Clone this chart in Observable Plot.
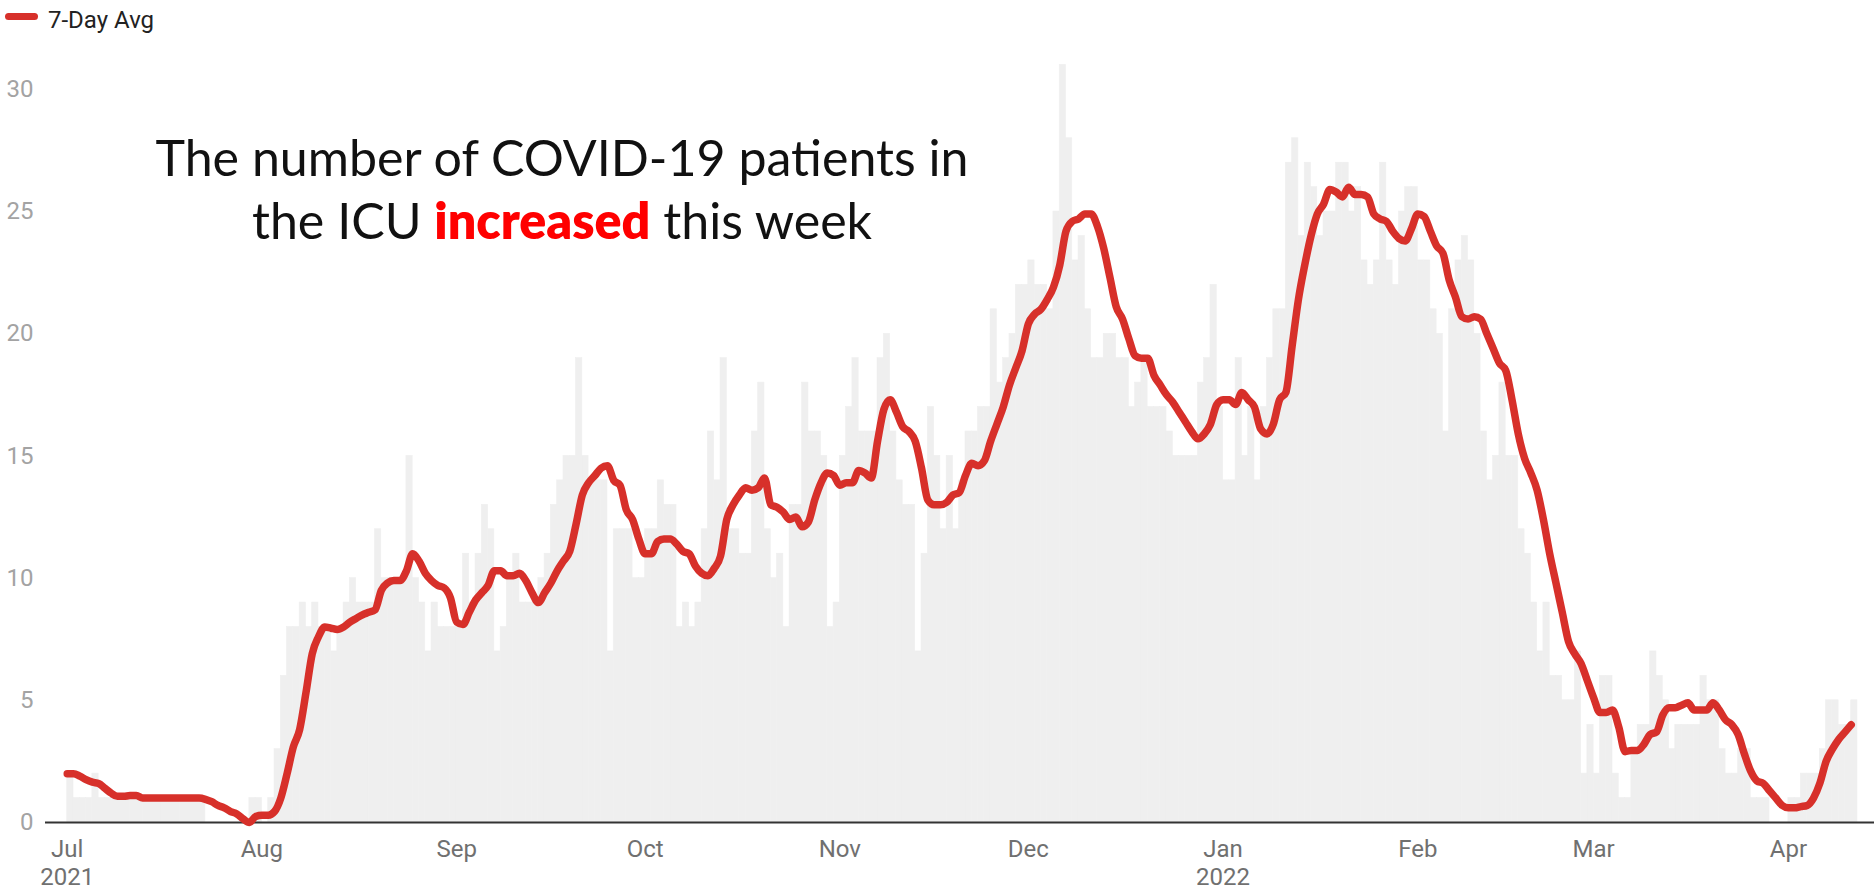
<!DOCTYPE html>
<html>
<head>
<meta charset="utf-8">
<script src="https://cdn.jsdelivr.net/npm/d3@7"></script>
<script src="https://cdn.jsdelivr.net/npm/@observablehq/plot@0.6"></script>
<style>
  html, body { margin: 0; padding: 0; background: #fff; }
  #wrap { position: relative; width: 1874px; height: 892px; font-family: Roboto, "Noto Sans", sans-serif; overflow: hidden; }
  #legend { position: relative; height: 40px; }
  #legend .swatch { position: absolute; left: 5px; top: 13px; width: 33px; height: 7px; border-radius: 4px; background: #d7302a; }
  #legend .lt { position: absolute; left: 48px; top: 5px; font-size: 24px; line-height: 30px; color: #222; }
  #chart svg { display: block; }
  #note { position: absolute; left: 62px; top: 126px; width: 1000px; text-align: center;
          font-family: Lato, "Open Sans", Roboto, sans-serif; font-weight: 400; font-size: 46px; line-height: 63px; color: #111; }
  #note b { color: #ff0000; font-weight: 800; }
</style>
</head>
<body>
<div id="wrap">
  <div id="legend"><span class="swatch"></span><span class="lt">7-Day Avg</span></div>
  <div id="chart"></div>
  <div id="note"><span id="l1">The number of COVID-19 patients in</span><br><span id="l2">the ICU <b>increased</b> this week</span></div>
</div>
<script>
// ---- data: daily ICU patients (bars), one value per day starting 2021-07-01 ----
const startDate = "2021-07-01";
const dailyIcu = [
  // Jul 2021
  2,1,1,1,2,1,1,1,1,1, 1,1,1,1,1,1,1,1,1,1, 1,1,0,0,0,0,0,0,0,1, 1,
  // Aug
  0,1,3,6,8,8,9,8,9,8, 8,7,8,9,10,9,9,9,12,10, 10,10,10,15,10,9,7,9,8,8, 8,
  // Sep
  8,11,9,11,13,12,7,8,10,11, 9,9,9,10,11,13,14,15,15,19, 15,14,14,14,7,12,12,12,10,10,
  // Oct
  12,12,14,13,13,8,9,8,9,12, 16,14,19,12,12,11,11,16,18,12, 10,11,8,13,13,18,16,16,15,8, 9,
  // Nov
  15,17,19,16,16,16,19,20,16,14, 13,13,7,11,17,15,12,15,12,14, 16,16,17,17,21,18,19,20,22,22,
  // Dec
  23,22,22,21,25,31,28,23,24,21, 19,19,20,20,19,19,17,18,19,17, 17,17,16,15,15,15,15,18,19,22, 17,
  // Jan 2022
  14,14,19,15,17,14,17,19,21,21, 27,28,24,27,26,24,25,25,27,27, 25,26,23,22,23,27,23,22,25,26, 26,
  // Feb
  23,23,21,20,16,21,23,24,23,20, 16,14,15,18,15,15,12,11,9,7, 9,6,6,5,5,7,2,4,
  // Mar
  2,6,6,2,1,1,3,4,4,7, 6,5,3,4,4,4,4,6,5,5, 3,2,2,3,3,1,1,1,0,0, 0,
  // Apr
  1,1,2,2,2,3,5,5,4,4,5
];
// ---- 7-day average (red line) ----
const avg7 = [
  // Jul 2021
  2.0,2.0,1.9,1.75,1.65,1.6,1.4,1.2,1.07,1.07, 1.1,1.1,1.0,1.0,1.0,1.0,1.0,1.0,1.0,1.0, 1.0,1.0,0.95,0.85,0.7,0.6,0.45,0.35,0.15,0.0, 0.25,
  // Aug
  0.3,0.3,0.45,1.0,2.0,3.1,3.8,5.3,6.9,7.6, 8.0,7.95,7.9,8.0,8.2,8.35,8.5,8.6,8.7,9.5, 9.8,9.9,9.9,10.3,11.0,10.7,10.2,9.9,9.7,9.6, 9.2,
  // Sep
  8.2,8.1,8.6,9.1,9.4,9.7,10.3,10.3,10.1,10.1, 10.2,9.9,9.4,9.0,9.4,9.8,10.3,10.7,11.1,12.2, 13.4,13.9,14.2,14.5,14.6,14.0,13.8,12.8,12.4,11.6,
  // Oct
  11.0,11.0,11.5,11.6,11.6,11.4,11.1,11.0,10.5,10.2, 10.1,10.4,10.9,12.4,13.0,13.4,13.7,13.6,13.7,14.1, 13.0,12.9,12.7,12.4,12.5,12.1,12.3,13.2,13.9,14.3, 14.2,
  // Nov
  13.8,13.9,13.9,14.4,14.3,14.1,15.6,16.9,17.3,16.8, 16.2,16.0,15.6,14.5,13.2,13.0,13.0,13.1,13.4,13.5, 14.2,14.7,14.6,14.8,15.6,16.3,17.0,17.9,18.6,19.3,
  // Dec
  20.4,20.8,21.0,21.4,21.9,22.8,24.2,24.6,24.7,24.9, 24.9,24.4,23.5,22.3,21.1,20.6,19.8,19.1,19.0,19.0, 18.3,17.9,17.5,17.2,16.8,16.4,16.0,15.7,15.9,16.3, 17.1,
  // Jan 2022
  17.3,17.3,17.1,17.6,17.3,17.0,16.1,15.9,16.3,17.3, 17.6,19.5,21.4,22.8,24.0,24.9,25.3,25.9,25.8,25.6, 26.0,25.7,25.7,25.6,24.9,24.7,24.6,24.2,23.9,23.8, 24.3,
  // Feb
  24.9,24.8,24.2,23.6,23.3,22.2,21.5,20.7,20.6,20.7, 20.6,20.0,19.4,18.8,18.5,17.3,15.9,14.9,14.3,13.6, 12.4,11.0,9.8,8.6,7.4,6.9,6.5,5.8,
  // Mar
  5.1,4.5,4.5,4.6,3.9,2.9,2.95,2.95,3.2,3.6, 3.7,4.4,4.7,4.7,4.8,4.9,4.6,4.6,4.6,4.9, 4.6,4.2,4.0,3.6,2.8,2.1,1.7,1.6,1.3,1.0, 0.7,
  // Apr
  0.6,0.6,0.65,0.7,1.0,1.6,2.5,3.0,3.4,3.7,4.0
];
const yTicks = [0, 5, 10, 15, 20, 25, 30];
const monthTickDates = ["2021-07-01","2021-08-01","2021-09-01","2021-10-01","2021-11-01","2021-12-01",
                        "2022-01-01","2022-02-01","2022-03-01","2022-04-01"];
const monthTickLabels = ["Jul\n2021","Aug","Sep","Oct","Nov","Dec","Jan\n2022","Feb","Mar","Apr"];

// ---- build table ----
const t0 = d3.utcParse("%Y-%m-%d")(startDate);
const rows = dailyIcu.map((v, i) => ({ date: d3.utcDay.offset(t0, i), icu: v, avg: avg7[i] }));
const tickDates = monthTickDates.map(d3.utcParse("%Y-%m-%d"));
const labelOf = new Map(tickDates.map((d, i) => [+d, monthTickLabels[i]]));

const xDomain = [d3.utcHour.offset(t0, -83), d3.utcHour.offset(t0, 24 * 287 + 17)];

const chart = Plot.plot({
  width: 1874,
  height: 852,
  marginLeft: 45,
  marginRight: 0,
  marginTop: 0,
  marginBottom: 70,
  style: { fontFamily: "Roboto, sans-serif", fontSize: "24px", background: "transparent", overflow: "visible" },
  x: { type: "utc", domain: xDomain },
  y: { domain: [0, 32] },
  marks: [
    Plot.rectY(rows, { x: "date", y: "icu", interval: d3.utcDay, fill: "#efefef", stroke: "#efefef", strokeWidth: 0.6, inset: 0 }),
    Plot.ruleY([0], { stroke: "#333", strokeWidth: 2 }),
    Plot.lineY(rows, { x: "date", y: "avg", stroke: "#d7302a", strokeWidth: 7.5, curve: "monotone-x",
                       strokeLinecap: "round", strokeLinejoin: "round" }),
    Plot.axisY({ ticks: yTicks, tickSize: 0, tickPadding: 12, fill: "#a3a3a3", label: null }),
    Plot.axisX({ ticks: tickDates, tickFormat: d => labelOf.get(+d), tickSize: 0, tickPadding: 15,
                 fill: "#707070", label: null, lineHeight: 1.15 })
  ]
});
document.getElementById("chart").appendChild(chart);

// fit annotation lines to the reference widths
const l1 = document.getElementById("l1");
const note = document.getElementById("note");
const w1 = l1.getBoundingClientRect().width;
const fs = 46 * 813 / w1;
note.style.fontSize = fs.toFixed(2) + "px";
</script>
</body>
</html>
